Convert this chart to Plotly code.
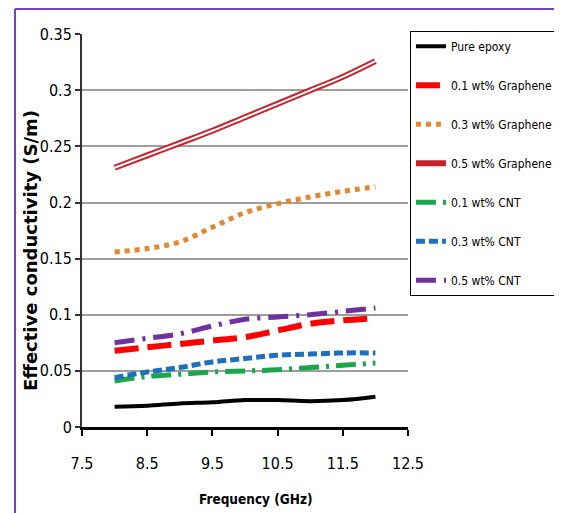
import plotly.graph_objects as go

freq = [8, 8.5, 9, 9.5, 10, 10.5, 11, 11.5, 12]
pure_epoxy = [0.018, 0.019, 0.021, 0.022, 0.024, 0.024, 0.023, 0.024, 0.027]
graphene_01 = [0.068, 0.071, 0.074, 0.077, 0.080, 0.086, 0.092, 0.095, 0.097]
graphene_03 = [0.156, 0.159, 0.165, 0.178, 0.191, 0.199, 0.205, 0.210, 0.214]
graphene_05 = [0.231, 0.242, 0.253, 0.264, 0.276, 0.288, 0.300, 0.312, 0.326]
cnt_01 = [0.041, 0.045, 0.047, 0.049, 0.050, 0.051, 0.053, 0.055, 0.057]
cnt_03 = [0.044, 0.049, 0.053, 0.058, 0.061, 0.064, 0.065, 0.066, 0.066]
cnt_05 = [0.075, 0.079, 0.083, 0.090, 0.096, 0.098, 0.100, 0.103, 0.106]
names = ["Pure epoxy", "0.1 wt% Graphene", "0.3 wt% Graphene", "0.5 wt% Graphene",
         "0.1 wt% CNT", "0.3 wt% CNT", "0.5 wt% CNT"]
x_ticks = [7.5, 8.5, 9.5, 10.5, 11.5, 12.5]
y_ticks = [0, 0.05, 0.1, 0.15, 0.2, 0.25, 0.3, 0.35]
y_tick_text = ["0", "0.05", "0.1", "0.15", "0.2", "0.25", "0.3", "0.35"]
x_title = "Frequency (GHz)"
y_title = "Effective conductivity (S/m)"

NARROW = "DejaVu Sans Condensed, Liberation Sans Narrow, sans-serif"

fig = go.Figure()

def add(y, name, color, width, dash, group):
    fig.add_trace(go.Scatter(x=freq, y=y, name=name, mode="lines", legendgroup=group,
                             line=dict(color=color, width=width, dash=dash, shape="spline")))

add(pure_epoxy, names[0], "black", 4, "solid", "g0")
add(graphene_01, names[1], "#FF0000", 6, "24px,9px", "g1")
add(graphene_03, names[2], "#E8862F", 5, "dot", "g2")
add(graphene_05, names[3], "#C8232C", 6, "solid", "g3")
fig.add_trace(go.Scatter(x=freq, y=graphene_05, mode="lines", legendgroup="g3", showlegend=False,
                         hoverinfo="skip", line=dict(color="white", width=2, shape="spline")))
add(cnt_01, names[4], "#1BA64B", 5, "20px,7px,3px,7px", "g4")
add(cnt_03, names[5], "#1F6FBF", 5, "9px,4px", "g5")
add(cnt_05, names[6], "#7030A0", 5, "20px,8px,3px,8px", "g6")

fig.update_layout(
    width=554, height=505,
    margin=dict(l=74, r=154, t=26, b=86, autoexpand=False),
    paper_bgcolor="white", plot_bgcolor="white",
    font=dict(family=NARROW, color="black"),
    showlegend=True,
    legend=dict(x=1.006, y=1.008, xanchor="left", yanchor="top",
                bordercolor="black", borderwidth=1, bgcolor="white",
                font=dict(family=NARROW, size=12, color="black"),
                tracegroupgap=20, itemwidth=30, maxheight=450),
    xaxis=dict(range=[7.5, 12.5], tickmode="array", tickvals=x_ticks,
               ticktext=[str(v) for v in x_ticks],
               showgrid=False, zeroline=False, showline=True, linecolor="black", linewidth=3,
               ticks="outside", ticklen=6, tickwidth=2, tickcolor="black",
               ticklabelstandoff=14,
               tickfont=dict(family=NARROW, size=16)),
    yaxis=dict(range=[0, 0.3502], tickmode="array", tickvals=y_ticks,
               ticktext=y_tick_text,
               showgrid=True, gridcolor="#9E9E9E", gridwidth=2, zeroline=False,
               showline=True, linecolor="#333333", linewidth=2,
               ticks="outside", ticklen=5, tickwidth=2, tickcolor="#333333",
               tickfont=dict(family=NARROW, size=16)),
)

fig.add_annotation(text="<b>" + x_title + "</b>", xref="paper", yref="paper", x=0.534, y=-0.183,
                   xanchor="center", yanchor="middle",
                   showarrow=False, font=dict(family=NARROW, size=13.5))
fig.add_annotation(text="<b>" + y_title + "</b>", xref="paper", yref="paper", x=-0.16, y=0.450,
                   xanchor="center", yanchor="middle",
                   textangle=-90, showarrow=False, font=dict(family="DejaVu Sans", size=18))

# purple frame (left and top edges)
fig.add_shape(type="line", xref="paper", yref="paper", x0=-0.2055, x1=-0.2055, y0=1.0636, y1=-0.25,
              line=dict(color="#7B3FC0", width=2))
fig.add_shape(type="line", xref="paper", yref="paper", x0=-0.2055, x1=1.5, y0=1.0636, y1=1.0636,
              line=dict(color="#7B3FC0", width=2))

fig.write_html("out.html")
